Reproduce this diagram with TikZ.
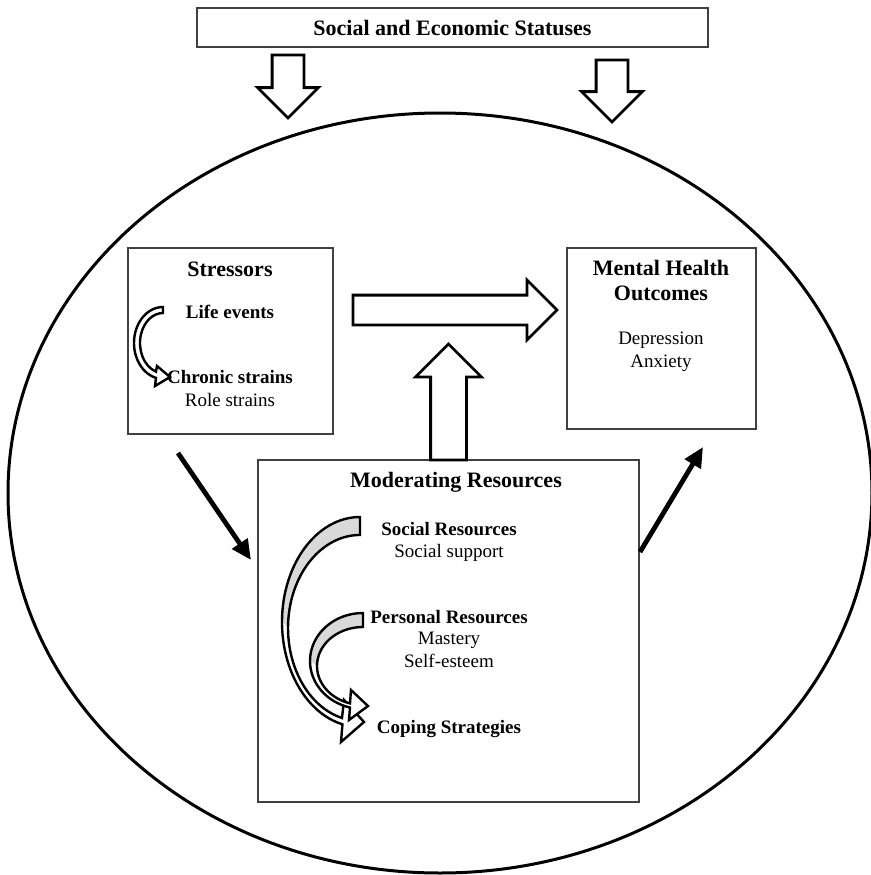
\documentclass[tikz,border=0pt]{standalone}
\usepackage{fontspec}
\setmainfont{Liberation Serif}
\usetikzlibrary{positioning,shapes.geometric,shapes.arrows,arrows.meta}

\begin{document}
\begin{tikzpicture}[x=0.5pt, y=-0.5pt,
  every node/.style={inner sep=0pt, outer sep=0pt},
  frame/.style={draw=black!75, line width=0.6pt, rectangle},
  title/.style={font=\fontsize{11}{13}\selectfont\bfseries, anchor=base},
  item/.style={font=\fontsize{9.5}{11.5}\selectfont\bfseries, anchor=base},
  plain/.style={font=\fontsize{9.5}{11.5}\selectfont, anchor=base},
  block/.style={single arrow, draw=black, line width=1.4pt, fill=white, single arrow tip angle=90, single arrow head indent=0pt, inner xsep=0pt, anchor=tip},
  curvebox/.style={draw=black, line width=1.2pt, line join=miter},
  push/.style={line width=2.4pt, -{Triangle[length=10pt, width=9pt]}}]
\useasboundingbox (0,0) rectangle (871,875);

% context ellipse
\node[draw, ellipse, line width=1.5pt, minimum width=432pt, minimum height=380pt] (ctx) at (440,493) {};

% boxes
\node[frame, minimum width=255.5pt, minimum height=19.5pt, font=\fontsize{11}{13}\selectfont\bfseries] (ses) at (452.5,27.5) {Social and Economic Statuses};
\node[frame, minimum width=102.5pt, minimum height=93pt] (stress) at (230.5,341) {};
\node[frame, minimum width=94.5pt, minimum height=90.5pt] (mental) at (661.5,338.5) {};
\node[frame, minimum width=190.5pt, minimum height=171pt] (moder) at (448.5,631) {};

% block arrows
\node[block, rotate=-90, minimum height=31.5pt, inner ysep=7.25pt, single arrow head extend=7.25pt] (sesleft) at (288,118) {};
\node[block, rotate=-90, minimum height=31pt, inner ysep=7.25pt, single arrow head extend=7.25pt] (sesright) at (612,122) {};
\node[block, minimum height=102pt, inner ysep=6.75pt, single arrow head extend=7.5pt] (direct) at (557,310) {};
\node[block, rotate=90, minimum height=58pt, inner ysep=8.25pt, single arrow head extend=7.5pt] (buffer) at (448.5,344) {};

% stressors
\node[title] (stresstitle) at (230,276) {Stressors};
\node[item] (life) at (230,318.5) {Life events};
\node[item] (chronic) at (230,383) {Chronic strains};
\node[plain] (role) at (230,406) {Role strains};
\draw[curvebox, fill=white] (163,307) arc[start angle=90, end angle=256, x radius=14.5pt, y radius=18pt] -- (155,386) -- (170,377) -- (157,366) -- (156,371.6) arc[start angle=252.3, end angle=90, x radius=11.5pt, y radius=15pt] -- cycle;

% outcomes
\node[title] (mentaltitle) at (661,275) {Mental Health};
\node[title] (outcomes) at (661,300) {Outcomes};
\node[plain] (depression) at (661,344) {Depression};
\node[plain] (anxiety) at (661,367) {Anxiety};

% resources
\node[title] (modertitle) at (456,487) {Moderating Resources};
\node[item] (social) at (449,535) {Social Resources};
\node[plain] (support) at (449,557) {Social support};
\node[item] (personal) at (449,623) {Personal Resources};
\node[plain] (mastery) at (449,644) {Mastery};
\node[plain] (esteem) at (449,667) {Self-esteem};
\node[item] (coping) at (449,733) {Coping Strategies};

% social -> coping
\fill[black!15] (360,517) arc[start angle=90, end angle=180, x radius=39pt, y radius=52.5pt] -- (288,628) arc[start angle=180, end angle=90, x radius=36pt, y radius=46.5pt] -- cycle;
\fill[white] (282,622) arc[start angle=180, end angle=257, x radius=39pt, y radius=52.5pt] -- (341,742) -- (364,722) -- (344,700) -- (342,718) arc[start angle=255.5, end angle=180, x radius=36pt, y radius=46.5pt] -- cycle;
\draw[curvebox] (360,517) arc[start angle=90, end angle=257, x radius=39pt, y radius=52.5pt] -- (341,742) -- (364,722) -- (344,700) -- (342,718) arc[start angle=255.5, end angle=90, x radius=36pt, y radius=46.5pt] -- cycle;

% personal -> coping
\fill[black!15] (363,613) arc[start angle=90, end angle=180, x radius=26.5pt, y radius=24pt] -- (317,666) arc[start angle=180, end angle=90, x radius=23pt, y radius=19.5pt] -- cycle;
\fill[white] (310,661) arc[start angle=180, end angle=255.8, x radius=26.5pt, y radius=24pt] -- (349,720) -- (368,706) -- (351,690) -- (350,703.4) arc[start angle=253.6, end angle=180, x radius=23pt, y radius=19.5pt] -- cycle;
\draw[curvebox] (363,613) arc[start angle=90, end angle=255.8, x radius=26.5pt, y radius=24pt] -- (349,720) -- (368,706) -- (351,690) -- (350,703.4) arc[start angle=253.6, end angle=90, x radius=23pt, y radius=19.5pt] -- cycle;

% mediating paths
\coordinate (stressout) at (178,453);
\coordinate (moderin) at (251,560);
\coordinate (moderout) at (640,552);
\coordinate (mentalin) at (703,447);
\draw[push] (stressout) -- (moderin);
\draw[push] (moderout) -- (mentalin);
\end{tikzpicture}
\end{document}
